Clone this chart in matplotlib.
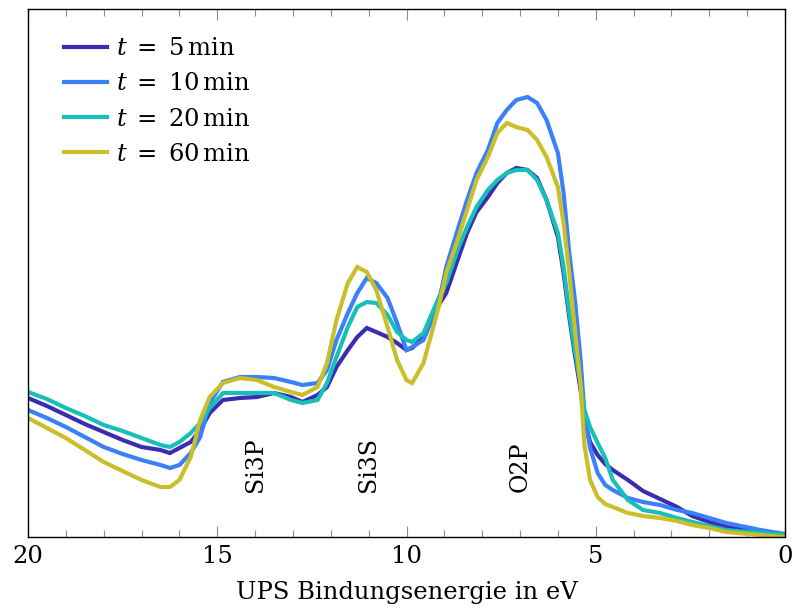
import numpy as np
import matplotlib
matplotlib.use("Agg")
import matplotlib.pyplot as plt

plt.rcParams['font.family'] = ['DejaVu Serif']
plt.rcParams['mathtext.fontset'] = 'dejavuserif'

# Bindungsenergie (eV)
energie = [20.0, 19.5, 19.0, 18.5, 18.0, 17.5, 17.0, 16.5, 16.25, 16.0,
           15.7, 15.45, 15.2, 14.85, 14.4, 13.95, 13.5, 13.05, 12.75, 12.35,
           12.1, 11.85, 11.55, 11.3, 11.05, 10.8, 10.5, 10.25, 10.0, 9.85,
           9.55, 9.15, 8.95, 8.65, 8.4, 8.15, 7.85, 7.6, 7.35, 7.1,
           6.8, 6.55, 6.3, 6.0, 5.85, 5.7, 5.55, 5.4, 5.3, 5.15,
           4.95, 4.75, 4.55, 4.15, 3.75, 3.3, 2.85, 2.45, 2.0, 1.55,
           0.65, 0.0]

# Intensitaet (willk. Einheiten)
t5 = [139, 131, 122, 113, 105, 97, 90, 87, 84, 89,
      95, 107, 124, 137, 139, 140, 144, 140, 135, 142,
      150, 170, 187, 200, 209, 205, 200, 194, 187, 189,
      200, 232, 244, 277, 304, 325, 340, 354, 364, 369,
      367, 359, 337, 300, 264, 220, 182, 147, 117, 95,
      82, 73, 67, 57, 46, 38, 30, 21, 15, 10,
      5, 2]
t10 = [127, 119, 110, 100, 90, 83, 77, 72, 69, 72,
       84, 100, 134, 155, 160, 160, 159, 155, 152, 154,
       167, 197, 224, 244, 259, 254, 239, 214, 187, 190,
       197, 234, 270, 307, 337, 364, 387, 414, 427, 437,
       440, 434, 417, 384, 344, 284, 237, 177, 124, 89,
       64, 52, 47, 39, 35, 32, 27, 24, 19, 14,
       7, 3]
t20 = [145, 138, 129, 121, 112, 106, 99, 92, 90, 95,
       104, 114, 129, 144, 144, 144, 144, 137, 134, 137,
       154, 180, 210, 230, 235, 234, 222, 205, 197, 195,
       204, 239, 254, 287, 310, 330, 347, 357, 364, 367,
       367, 357, 337, 304, 270, 224, 187, 152, 127, 110,
       94, 79, 57, 37, 27, 24, 19, 15, 11, 7,
       4, 2]
t60 = [119, 109, 99, 87, 75, 66, 57, 50, 50, 57,
       80, 117, 140, 154, 159, 157, 150, 145, 142, 150,
       174, 217, 254, 270, 265, 247, 210, 177, 157, 154,
       174, 230, 264, 297, 327, 357, 380, 404, 414, 410,
       407, 397, 380, 350, 314, 264, 207, 152, 92, 57,
       40, 33, 30, 24, 21, 19, 16, 12, 9, 5,
       2, 0]

serien = [(t5, r'$t\;=\;5\,\mathrm{min}$', '#3b2db0'),
          (t10, r'$t\;=\;10\,\mathrm{min}$', '#3a80f8'),
          (t20, r'$t\;=\;20\,\mathrm{min}$', '#18bfb8'),
          (t60, r'$t\;=\;60\,\mathrm{min}$', '#c9bf2a')]

peaks = [(14.0, 'Si3P'), (11.0, 'Si3S'), (7.0, 'O2P')]

fig = plt.figure(figsize=(7.92, 6.16), dpi=100)
ax = fig.add_axes([28 / 792, 1 - 537 / 616, 757 / 792, 528 / 616])

for werte, name, farbe in serien:
    ax.plot(energie, werte, color=farbe, lw=3, label=name, solid_joinstyle='miter')

for e, txt in peaks:
    ax.text(e, 45, txt, rotation=90, ha='center', va='bottom', fontsize=17)

ax.set_xlim(20, 0)
ax.set_ylim(0, 528)
ax.set_yticks([])
ax.set_xticks([20, 15, 10, 5, 0])
ax.set_xticks(np.arange(0, 21, 1), minor=True)
ax.tick_params(axis='x', which='both', direction='in', top=True, labelsize=17.5,
               color='0.55', width=0.8, pad=6)
ax.tick_params(axis='x', which='major', length=8)
ax.tick_params(axis='x', which='minor', length=5)
for s in ax.spines.values():
    s.set_linewidth(1.0)
ax.set_xlabel('UPS Bindungsenergie in eV', fontsize=17.5, labelpad=9)

ax.legend(loc='upper left', frameon=False, fontsize=17.5, handlelength=1.75,
          handletextpad=0.4, labelspacing=0.5, bbox_to_anchor=(0.035, 0.965),
          borderaxespad=0)

fig.savefig('out.png', dpi=100)
